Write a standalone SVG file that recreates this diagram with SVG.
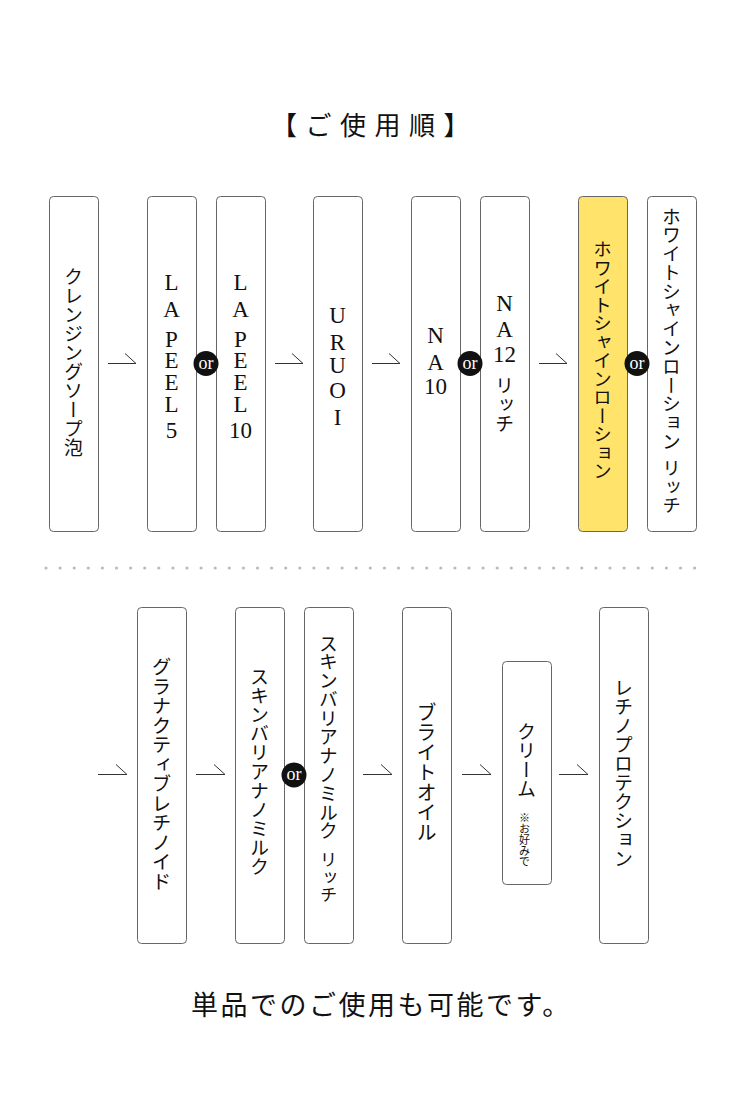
<svg xmlns="http://www.w3.org/2000/svg" width="750" height="1119" viewBox="0 0 750 1119">
<style>
.box{fill:#fff;stroke:#666;stroke-width:1}
.hl{fill:#ffe36b}
.v{writing-mode:vertical-rl;font-family:"Noto Sans CJK JP","Noto Sans CJK SC",sans-serif;fill:#111;text-anchor:middle}
.vs{writing-mode:vertical-rl;font-family:"Noto Sans CJK JP","Noto Sans CJK SC",sans-serif;fill:#111;text-anchor:start}
.l{font-family:"Liberation Serif",serif;font-size:23px;fill:#111;text-anchor:middle}
.or circle{fill:#111}
.or text{font-family:"Liberation Serif",serif;font-size:18px;fill:#fff;text-anchor:middle}
.arr path{fill:none;stroke:#333;stroke-width:1}
.h{font-family:"Noto Sans CJK JP","Noto Sans CJK SC",sans-serif;fill:#111}
</style>
<rect width="750" height="1119" fill="#fff"/>
<text class="h" x="271" y="135" font-size="26" letter-spacing="8.5">【ご使用順】</text>

<g id="n1"><rect class="box" x="49.5" y="196.5" width="49" height="335" rx="4"/><text class="v" x="73.5" y="362" font-size="19">クレンジングソープ泡</text></g>
<g id="n2"><rect class="box" x="147.5" y="196.5" width="49" height="335" rx="4"/>
<text class="l" x="171.5" y="290">L</text><text class="l" x="171.5" y="317">A</text><text class="l" x="171.5" y="347">P</text><text class="l" x="171.5" y="368">E</text><text class="l" x="171.5" y="390">E</text><text class="l" x="171.5" y="412">L</text><text class="l" x="171.5" y="438">5</text></g>
<g id="n3"><rect class="box" x="216.5" y="196.5" width="49" height="335" rx="4"/>
<text class="l" x="240.5" y="290">L</text><text class="l" x="240.5" y="317">A</text><text class="l" x="240.5" y="347">P</text><text class="l" x="240.5" y="368">E</text><text class="l" x="240.5" y="390">E</text><text class="l" x="240.5" y="412">L</text><text class="l" x="240.5" y="438">10</text></g>
<g id="n4"><rect class="box" x="313.5" y="196.5" width="49" height="335" rx="4"/>
<text class="l" x="337.5" y="323" font-size="26">U</text><text class="l" x="337.5" y="350" font-size="26">R</text><text class="l" x="337.5" y="373" font-size="26">U</text><text class="l" x="337.5" y="398" font-size="26">O</text><text class="l" x="337.5" y="425" font-size="26">I</text></g>
<g id="n5"><rect class="box" x="411.5" y="196.5" width="49" height="335" rx="4"/>
<text class="l" x="435.5" y="343">N</text><text class="l" x="435.5" y="370">A</text><text class="l" x="435.5" y="394">10</text></g>
<g id="n6"><rect class="box" x="480.5" y="196.5" width="49" height="335" rx="4"/>
<text class="l" x="504.5" y="311">N</text><text class="l" x="504.5" y="337">A</text><text class="l" x="504.5" y="362">12</text><text class="vs" x="504.5" y="376" font-size="19">リッチ</text></g>
<g id="n7"><rect class="box hl" x="578.5" y="196.5" width="49" height="335" rx="4"/><text class="v" x="602.5" y="360" font-size="18.5">ホワイトシャインローション</text></g>
<g id="n8"><rect class="box" x="647.5" y="196.5" width="49" height="335" rx="4"/><text class="vs" x="671.5" y="207" font-size="18.8">ホワイトシャインローション</text><text class="vs" x="671.5" y="459" font-size="18.5">リッチ</text></g>

<g id="sep" fill="#bbb">
<circle cx="46" cy="568" r="1.6"/><circle cx="60.1" cy="568" r="1.6"/><circle cx="74.2" cy="568" r="1.6"/><circle cx="88.3" cy="568" r="1.6"/><circle cx="102.4" cy="568" r="1.6"/><circle cx="116.5" cy="568" r="1.6"/><circle cx="130.6" cy="568" r="1.6"/><circle cx="144.7" cy="568" r="1.6"/><circle cx="158.8" cy="568" r="1.6"/><circle cx="172.9" cy="568" r="1.6"/><circle cx="187" cy="568" r="1.6"/><circle cx="201.1" cy="568" r="1.6"/><circle cx="215.2" cy="568" r="1.6"/><circle cx="229.3" cy="568" r="1.6"/><circle cx="243.4" cy="568" r="1.6"/><circle cx="257.5" cy="568" r="1.6"/><circle cx="271.6" cy="568" r="1.6"/><circle cx="285.7" cy="568" r="1.6"/><circle cx="299.8" cy="568" r="1.6"/><circle cx="313.9" cy="568" r="1.6"/><circle cx="328" cy="568" r="1.6"/><circle cx="342.1" cy="568" r="1.6"/><circle cx="356.2" cy="568" r="1.6"/><circle cx="370.3" cy="568" r="1.6"/><circle cx="384.4" cy="568" r="1.6"/><circle cx="398.5" cy="568" r="1.6"/><circle cx="412.6" cy="568" r="1.6"/><circle cx="426.7" cy="568" r="1.6"/><circle cx="440.8" cy="568" r="1.6"/><circle cx="454.9" cy="568" r="1.6"/><circle cx="469" cy="568" r="1.6"/><circle cx="483.1" cy="568" r="1.6"/><circle cx="497.2" cy="568" r="1.6"/><circle cx="511.3" cy="568" r="1.6"/><circle cx="525.4" cy="568" r="1.6"/><circle cx="539.5" cy="568" r="1.6"/><circle cx="553.6" cy="568" r="1.6"/><circle cx="567.7" cy="568" r="1.6"/><circle cx="581.8" cy="568" r="1.6"/><circle cx="595.9" cy="568" r="1.6"/><circle cx="610" cy="568" r="1.6"/><circle cx="624.1" cy="568" r="1.6"/><circle cx="638.2" cy="568" r="1.6"/><circle cx="652.3" cy="568" r="1.6"/><circle cx="666.4" cy="568" r="1.6"/><circle cx="680.5" cy="568" r="1.6"/><circle cx="694.6" cy="568" r="1.6"/>
</g>

<g id="m1"><rect class="box" x="137.5" y="607.5" width="49" height="336" rx="4"/><text class="v" x="161.5" y="774" font-size="19.5">グラナクティブレチノイド</text></g>
<g id="m2"><rect class="box" x="235.5" y="607.5" width="49" height="336" rx="4"/><text class="v" x="259.5" y="772" font-size="19">スキンバリアナノミルク</text></g>
<g id="m3"><rect class="box" x="304.5" y="607.5" width="49" height="336" rx="4"/><text class="vs" x="328.5" y="634" font-size="18.8">スキンバリアナノミルク</text><text class="vs" x="328.5" y="851" font-size="17.5">リッチ</text></g>
<g id="m4"><rect class="box" x="402.5" y="607.5" width="49" height="336" rx="4"/><text class="v" x="426.5" y="772" font-size="20">ブライトオイル</text></g>
<g id="m5"><rect class="box" x="502.5" y="661.5" width="49" height="223" rx="4"/><text class="vs" x="526.5" y="722" font-size="19">クリーム</text><text class="vs" x="524.5" y="812" font-size="11">※お好みで</text></g>
<g id="m6"><rect class="box" x="599.5" y="607.5" width="49" height="336" rx="4"/><text class="v" x="623.5" y="773" font-size="19">レチノプロテクション</text></g>

<g id="connectors" class="arr">
<path d="M108 363.5H136L125 353.5"/>
<path d="M275 363.5H303L292 353.5"/>
<path d="M372 363.5H400L389 353.5"/>
<path d="M539 363.5H567L556 353.5"/>
<path d="M98 774.5H127L116 764.5"/>
<path d="M196 774.5H225L214 764.5"/>
<path d="M363 774.5H392L381 764.5"/>
<path d="M462 774.5H491L480 764.5"/>
<path d="M559 774.5H588L577 764.5"/>
</g>
<g id="or1" class="or"><circle cx="206" cy="363.5" r="12.5"/><text x="206" y="368.5">or</text></g>
<g id="or2" class="or"><circle cx="470" cy="363.5" r="12.5"/><text x="470" y="368.5">or</text></g>
<g id="or3" class="or"><circle cx="637" cy="363.5" r="12.5"/><text x="637" y="368.5">or</text></g>
<g id="or4" class="or"><circle cx="294" cy="775" r="12.5"/><text x="294" y="780">or</text></g>

<text class="h" x="191" y="1015" font-size="27" letter-spacing="2.5">単品でのご使用も可能です。</text>
</svg>
